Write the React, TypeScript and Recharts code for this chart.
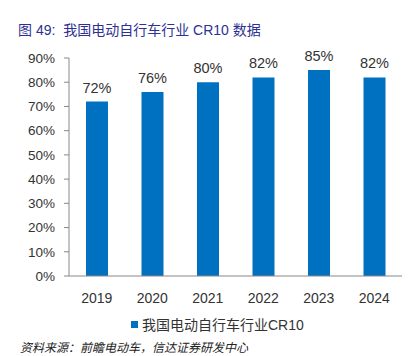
import React from "react";
import { BarChart, Bar, XAxis, YAxis, LabelList, Legend } from "recharts";

const years = ["2019", "2020", "2021", "2022", "2023", "2024"];
const cr10 = [72, 76, 80, 82, 85, 82];
const yTicks = [0, 10, 20, 30, 40, 50, 60, 70, 80, 90];
const boundaryTicks = [0, 1, 2, 3, 4, 5, 6];
const seriesName = "我国电动自行车行业CR10";
const title = "图 49:  我国电动自行车行业 CR10 数据";
const source = "资料来源：前瞻电动车，信达证券研发中心";

const data = years.map((y, i) => ({ year: y, value: cr10[i] }));

const FONT = '"Liberation Sans", Arial, "Noto Sans CJK SC", sans-serif';
const BLUE = "#0070c0";

const LegendContent = (props: any) => {
  const items = props.payload || [];
  return (
    <div style={{ display: "flex", alignItems: "center", paddingLeft: 131, height: 20 }}>
      {items.map((it: any) => (
        <div key={it.value} style={{ display: "flex", alignItems: "center" }}>
          <span style={{ display: "inline-block", width: 7, height: 7, background: BLUE, marginRight: 4 }} />
          <span style={{ fontFamily: FONT, fontSize: 14, color: "#333" }}>{it.value}</span>
        </div>
      ))}
    </div>
  );
};

export default function App() {
  return (
    <div style={{ position: "absolute", left: 0, top: 0, width: 415, height: 356, overflow: "hidden", background: "#fff" }}>
      <div
        style={{
          position: "absolute",
          left: 18,
          top: 20,
          fontFamily: '"Liberation Sans", "Noto Sans CJK SC", sans-serif',
          fontSize: 14,
          color: "#2e3192",
          whiteSpace: "pre",
          lineHeight: "20px",
        }}
      >
        {title}
      </div>
      <BarChart
        width={415}
        height={356}
        data={data}
        margin={{ top: 58, right: 13, bottom: 22, left: 19 }}
        barCategoryGap="30%"
      >
        <XAxis
          xAxisId="b"
          type="number"
          domain={[0, 6]}
          ticks={boundaryTicks}
          height={0}
          axisLine={false}
          tick={false}
          tickSize={-4}
          tickLine={{ stroke: "#888" }}
        />
        <XAxis
          xAxisId="cat"
          dataKey="year"
          height={38}
          axisLine={{ stroke: "#888" }}
          tickLine={false}
          tickMargin={11}
          tick={{ fontFamily: FONT, fontSize: 14, fill: "#333" }}
        />
        <YAxis
          width={50}
          domain={[0, 90]}
          ticks={yTicks}
          tickFormatter={(v: number) => `${v}%`}
          axisLine={{ stroke: "#888" }}
          tickLine={{ stroke: "#888" }}
          tickSize={5}
          tickMargin={9}
          tick={{ fontFamily: FONT, fontSize: 13.5, fill: "#333" }}
          allowDataOverflow
        />
        <Legend verticalAlign="bottom" height={20} content={<LegendContent />} wrapperStyle={{ left: 0, width: 415 }} />
        <Bar xAxisId="cat" dataKey="value" name={seriesName} fill={BLUE} barSize={22} isAnimationActive={false}>
          <LabelList
            dataKey="value"
            position="top"
            offset={9}
            formatter={(v: any) => `${v}%`}
            style={{ fontFamily: FONT, fontSize: 14.5, fill: "#333" }}
          />
        </Bar>
      </BarChart>
      <div
        style={{
          position: "absolute",
          left: 20,
          top: 340,
          fontFamily: '"Noto Sans CJK SC", sans-serif',
          fontSize: 12,
          fontStyle: "italic",
          color: "#222",
          lineHeight: "13px",
          whiteSpace: "pre",
        }}
      >
        {source}
      </div>
    </div>
  );
}
